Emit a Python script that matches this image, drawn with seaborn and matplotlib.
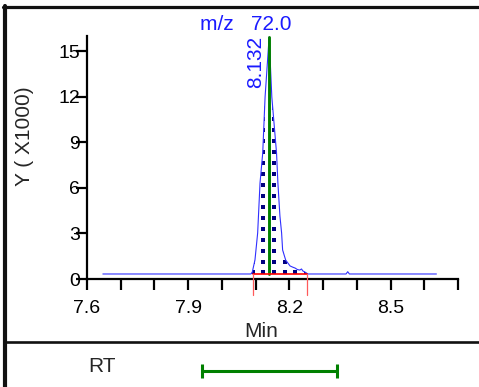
import numpy as np
import matplotlib
matplotlib.use("Agg")
import matplotlib.pyplot as plt
from matplotlib.lines import Line2D
import seaborn as sns

# Трасса хроматограммы (время, мин / интенсивность, x1000)
rt = [7.647, 8.086, 8.090, 8.098, 8.106, 8.113, 8.121, 8.128, 8.140, 8.148,
      8.162, 8.166, 8.172, 8.177, 8.180, 8.189, 8.202, 8.210, 8.217, 8.224,
      8.231, 8.236, 8.240, 8.246, 8.255, 8.368, 8.373, 8.378, 8.636]
intensity = [0.33, 0.33, 0.45, 1.25, 3.03, 6.32, 8.29, 11.98, 15.93, 11.98,
             8.29, 6.32, 4.15, 3.03, 1.91, 1.25, 0.86, 0.78, 0.72, 0.62,
             0.59, 0.66, 0.53, 0.46, 0.33, 0.33, 0.48, 0.33, 0.33]

# Пик и границы интегрирования
peak_rt = 8.140
peak_top = 15.93
peak_label = "8.132"
mz_label = "m/z   72.0"
baseline = 0.33
integ_start, integ_end = 8.092, 8.252
rt_window = (7.94, 8.34)

# Оси
x_ticks = [7.6, 7.7, 7.8, 7.9, 8.0, 8.1, 8.2, 8.3, 8.4, 8.5, 8.6, 8.7]
x_labels = [7.6, 7.9, 8.2, 8.5]
y_ticks = [0, 3, 6, 9, 12, 15]

sns.set_style("white")
plt.rcParams["font.family"] = ["Liberation Sans", "DejaVu Sans"]

W, H = 479, 387
fig = plt.figure(figsize=(W / 100, H / 100), dpi=100)

def fx(px):
    return px / W

def fy(py):
    return 1 - py / H

ax = fig.add_axes([fx(87), fy(279), (458 - 87) / W, (279 - 36) / H])

# область пика с точечной заливкой
in_peak = [(t >= 8.086) and (t <= 8.255) for t in rt]
prt = np.array(rt)[in_peak]
pint = np.array(intensity)[in_peak]
poly = ax.fill_between(prt, baseline, pint, facecolor="none", edgecolor="none")
gx, gy = np.meshgrid(np.arange(8.0276, 8.27, 0.0317), np.arange(0.43, 16.5, 0.721))
dots = ax.scatter(gx.ravel(), gy.ravel(), marker="s", s=6, color="#000080",
                  linewidths=0, zorder=3)
dots.set_clip_path(poly.get_paths()[0], ax.transData)

sns.lineplot(x=rt, y=intensity, ax=ax, color="#3030ff", lw=0.8,
             estimator=None, sort=False, zorder=4)

# линия вершины пика
ax.plot([peak_rt, peak_rt], [baseline, peak_top], color="#008000", lw=2.1, zorder=5)

# базовая линия интегрирования
ax.plot([integ_start, integ_end], [baseline, baseline], color="#ff0000", lw=1.2,
        zorder=6, clip_on=False)
for xb in (integ_start, integ_end):
    ax.plot([xb, xb], [baseline, -1.05], color="#ff5a5a", lw=0.9, zorder=6,
            clip_on=False)

ax.set_xlim(7.6, 8.7)
ax.set_ylim(0, 16.0)
ax.set_xticks(x_ticks)
ax.set_xticklabels([f"{t:.1f}" if t in x_labels else "" for t in x_ticks])
ax.set_yticks(y_ticks)
ax.set_yticklabels([str(t) for t in y_ticks])

for s in ("top", "right"):
    ax.spines[s].set_visible(False)
for s in ("left", "bottom"):
    ax.spines[s].set_linewidth(1.6)
    ax.spines[s].set_color("black")

ax.tick_params(axis="x", direction="out", length=8, width=1.6, pad=7,
               labelsize=14, colors="black", bottom=True)
ax.tick_params(axis="y", direction="out", length=8, width=1.6, pad=-3,
               labelsize=14, colors="black", left=True)
ax.grid(False)

ax.set_xlabel("Min", fontsize=15, va="top")
ax.xaxis.set_label_coords((261 - 87) / 371, (279 - 322) / 243)
ax.set_ylabel("Y ( X1000)", fontsize=15, va="center")
ax.yaxis.set_label_coords((25 - 87) / 371, (279 - 136) / 243)

# подписи пика
fig.text(fx(246), fy(24), mz_label, color="#1a1aff", fontsize=15,
         ha="center", va="center")
fig.text(fx(256), fy(36), peak_label, color="#1a1aff", fontsize=15,
         rotation=90, ha="center", va="top")

# нижняя панель RT
ax2 = fig.add_axes([fx(87), fy(387), (458 - 87) / W, 32 / H])
ax2.set_xlim(7.6, 8.7)
ax2.set_ylim(-1, 1)
ax2.axis("off")
center = (rt_window[0] + rt_window[1]) / 2
half = (rt_window[1] - rt_window[0]) / 2
ax2.errorbar([center], [0], xerr=[half], fmt="none", ecolor="#008000",
             elinewidth=2.2, capsize=5, capthick=2.2)
fig.text(fx(102), fy(367), "RT", fontsize=15, ha="center", va="center")

# рамки
fig.add_artist(Line2D([fx(3), 1], [fy(7), fy(7)], color="#111111", lw=2.3))
fig.add_artist(Line2D([fx(5), fx(5)], [0, fy(6)], color="#111111", lw=3))
fig.add_artist(Line2D([fx(5), 1], [fy(341.5), fy(341.5)], color="#111111", lw=1.9))

fig.savefig("out.png", dpi=100)
